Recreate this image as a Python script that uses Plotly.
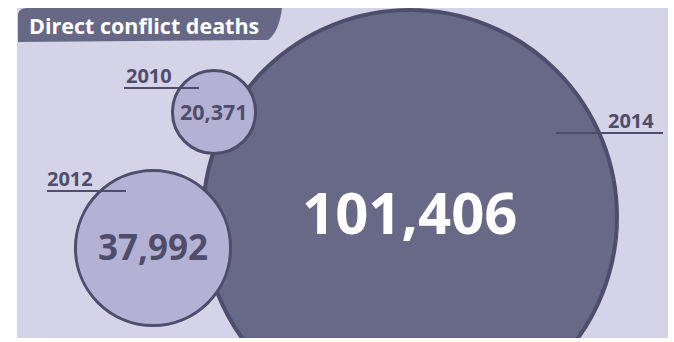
import plotly.graph_objects as go

# ---- data ----
years = ["2010", "2012", "2014"]
deaths = [20371, 37992, 101406]

# ---- layout (pixel-like coordinate system of the panel) ----
center_x = [214, 153, 410]
center_y = [112, 248, 217]
px_per_death = 207 / 101406          # circle radius proportional to value
label_x = [149, 70, 631]
label_y = [75, 178, 120]
underline_x0 = [124, 47, 556]
underline_x1 = [199, 126, 663]
underline_y = [88, 191, 133]
value_font_size = [21.5, 35, 58]
value_yshift = [1, 2, 6]

BG = "#d5d3e7"
DARK_FILL = "#686987"
LIGHT_FILL = "#b3b2d4"
OUTLINE = "#4e4e6c"
TEXT_DARK = "#4e4e6c"
FONT = "Open Sans"

order = sorted(range(len(deaths)), key=lambda i: -deaths[i])

fig = go.Figure()
fig.add_trace(go.Scatter(
    x=[center_x[i] for i in order],
    y=[center_y[i] for i in order],
    mode="markers",
    marker=dict(
        size=[2 * deaths[i] * px_per_death for i in order],
        sizemode="diameter",
        color=[DARK_FILL if deaths[i] == max(deaths) else LIGHT_FILL for i in order],
        line=dict(color=OUTLINE, width=[4 if deaths[i] == max(deaths) else 3 for i in order]),
        opacity=1,
    ),
    hoverinfo="skip",
    cliponaxis=True,
    showlegend=False,
))

annotations = []
shapes = []
for i in range(len(deaths)):
    big = deaths[i] == max(deaths)
    annotations.append(dict(
        x=center_x[i], y=center_y[i], xref="x", yref="y",
        text=f"<b>{deaths[i]:,}</b>", showarrow=False,
        xanchor="center", yanchor="middle", yshift=value_yshift[i],
        font=dict(family=FONT, size=value_font_size[i],
                  color="white" if big else TEXT_DARK),
    ))
    annotations.append(dict(
        x=label_x[i], y=label_y[i], xref="x", yref="y",
        text=f"<b>{years[i]}</b>", showarrow=False,
        xanchor="center", yanchor="middle",
        font=dict(family=FONT, size=20, color=TEXT_DARK),
    ))
    shapes.append(dict(
        type="line", xref="x", yref="y",
        x0=underline_x0[i], x1=underline_x1[i], y0=underline_y[i], y1=underline_y[i],
        line=dict(color=OUTLINE, width=2), layer="above",
    ))

# title tab
shapes.append(dict(
    type="path", xref="x", yref="y",
    path="M 18,42 L 18,16 Q 18,8 27,8 L 282,8 Q 279,32 268,40 L 18,42 Z",
    fillcolor="#676886", line=dict(width=0), layer="above",
))
annotations.append(dict(
    x=27, y=25.5, xref="x", yref="y", text="<b>Direct conflict deaths</b>",
    showarrow=False, xanchor="left", yanchor="middle",
    font=dict(family=FONT, size=21.5, color="white"),
))

fig.update_layout(
    width=674, height=342,
    margin=dict(l=17, r=6, t=8, b=4, autoexpand=False),
    paper_bgcolor="white", plot_bgcolor=BG,
    xaxis=dict(range=[17, 668], visible=False, fixedrange=True),
    yaxis=dict(range=[338, 8], visible=False, fixedrange=True),
    shapes=shapes, annotations=annotations,
)

fig.write_html("out.html")
